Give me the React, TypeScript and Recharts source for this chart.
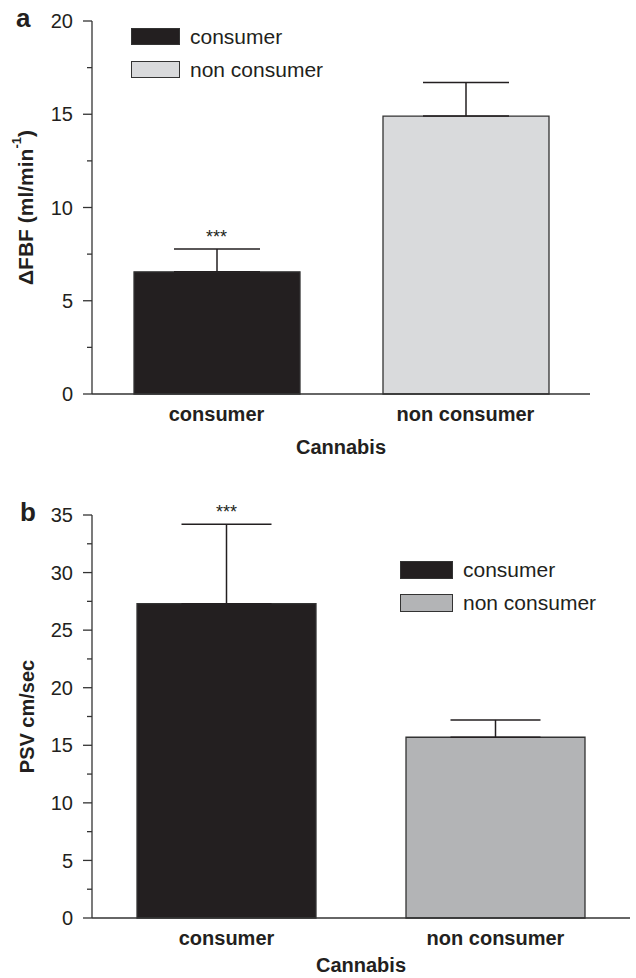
import React from "react";
import {
  BarChart,
  Bar,
  Cell,
  XAxis,
  YAxis,
  ErrorBar,
  ReferenceDot,
  Legend,
} from "recharts";

const INK = "#231f20";
const LINE = "#333333";
const FONT = '"Liberation Sans", Arial, Helvetica, sans-serif';

// shared categories (x axis + legend)
const categories = ["consumer", "non consumer"];

// panel a: ΔFBF
const fbfMean = [6.55, 14.9];
const fbfSem = [1.23, 1.8];
const fbfSig = ["***", ""];
const fbfColors = ["#231f20", "#d9dadc"];
const fbfTicks = [0, 2.5, 5, 7.5, 10, 12.5, 15, 17.5, 20];

// panel b: PSV
const psvMean = [27.3, 15.7];
const psvSem = [6.9, 1.5];
const psvSig = ["***", ""];
const psvColors = ["#231f20", "#b3b4b6"];
const psvTicks = [0, 2.5, 5, 7.5, 10, 12.5, 15, 17.5, 20, 22.5, 25, 27.5, 30, 32.5, 35];

function buildRows(mean: number[], sem: number[]) {
  return categories.map((name, i) => ({ name, mean: mean[i], err: [0, sem[i]] }));
}

function YTick(props: any) {
  const { x, y, payload } = props;
  const major = payload.value % 5 === 0;
  return (
    <g>
      <line x1={x - (major ? 9 : 5)} x2={x} y1={y} y2={y} stroke={LINE} strokeWidth={1.3} />
      {major && (
        <text x={x - 19} y={y} dy="0.36em" textAnchor="end" fontSize={20} fill={INK}>
          {payload.value}
        </text>
      )}
    </g>
  );
}

function AxisTitle(props: any) {
  const { viewBox, title, letter, titleX, letterX, titleSize } = props;
  const y = viewBox?.y ?? 0;
  const h = viewBox?.height ?? 0;
  const cy = y + h / 2;
  return (
    <g>
      <text x={letterX} y={y + 6} fontSize={26} fontWeight="bold" fill={INK}>
        {letter}
      </text>
      <text
        x={titleX}
        y={cy}
        transform={`rotate(-90 ${titleX} ${cy})`}
        textAnchor="middle"
        dominantBaseline="central"
        fontSize={titleSize}
        fontWeight="bold"
        fill={INK}
      >
        {title}
      </text>
    </g>
  );
}

function LegendBox({ colors, boxW, boxH }: { colors: string[]; boxW: number; boxH: number }) {
  return (
    <div style={{ fontFamily: FONT, fontSize: 21, color: INK }}>
      {categories.map((c, i) => (
        <div key={c} style={{ display: "flex", alignItems: "center", height: 33 }}>
          <span
            style={{
              display: "inline-block",
              width: boxW,
              height: boxH,
              boxSizing: "border-box",
              background: colors[i],
              border: `1px solid ${LINE}`,
              marginRight: 10,
            }}
          />
          <span>{c}</span>
        </div>
      ))}
    </div>
  );
}

interface PanelProps {
  mean: number[];
  sem: number[];
  sig: string[];
  colors: string[];
  ticks: number[];
  max: number;
  letter: string;
  title: React.ReactNode;
  titleSize: number;
  height: number;
  margin: { top: number; right: number; bottom: number; left: number };
  barSize: number;
  capHalf: number;
  legendPos: { top: number; left: number };
  legendBox: { w: number; h: number };
  titleX: number;
  letterX: number;
  xLabelOffset: number;
}

function Panel(p: PanelProps) {
  const rows = buildRows(p.mean, p.sem);
  return (
    <BarChart width={636} height={p.height} data={rows} margin={p.margin}>
      <XAxis
        dataKey="name"
        height={60}
        tickLine={false}
        tickMargin={7}
        axisLine={{ stroke: LINE, strokeWidth: 1.3 }}
        tick={{ fontSize: 20, fontWeight: "bold", fill: INK }}
        label={{
          value: "Cannabis",
          position: "insideBottom",
          offset: p.xLabelOffset,
          fontSize: 20,
          fontWeight: "bold",
          fill: INK,
        }}
      />
      <YAxis
        width={92}
        domain={[0, p.max]}
        ticks={p.ticks}
        interval={0}
        tickSize={0}
        tickMargin={0}
        tickLine={false}
        axisLine={{ stroke: LINE, strokeWidth: 1.3 }}
        tick={<YTick />}
        label={
          <AxisTitle
            title={p.title}
            titleSize={p.titleSize}
            letter={p.letter}
            titleX={p.titleX}
            letterX={p.letterX}
          />
        }
      />
      <Legend
        layout="horizontal"
        verticalAlign="middle"
        align="center"
        wrapperStyle={{ top: p.legendPos.top, left: p.legendPos.left, width: "auto" }}
        content={() => <LegendBox colors={p.colors} boxW={p.legendBox.w} boxH={p.legendBox.h} />}
      />
      <Bar dataKey="mean" barSize={p.barSize} stroke={LINE} strokeWidth={1.3} isAnimationActive={false}>
        {rows.map((r, i) => (
          <Cell key={r.name} fill={p.colors[i]} />
        ))}
        <ErrorBar dataKey="err" direction="y" width={p.capHalf} stroke={INK} strokeWidth={1.5} />
      </Bar>
      {rows.map((r, i) =>
        p.sig[i] ? (
          <ReferenceDot
            key={r.name}
            x={r.name}
            y={p.mean[i] + p.sem[i]}
            r={0}
            fill="none"
            stroke="none"
            label={{ value: p.sig[i], position: "top", offset: 6, fontSize: 18, fill: INK }}
          />
        ) : null
      )}
    </BarChart>
  );
}

export default function App() {
  return (
    <div
      style={{
        position: "absolute",
        left: 0,
        top: 0,
        width: 636,
        height: 978,
        background: "#fff",
        fontFamily: FONT,
      }}
    >
      <Panel
        mean={fbfMean}
        sem={fbfSem}
        sig={fbfSig}
        colors={fbfColors}
        ticks={fbfTicks}
        max={20}
        letter="a"
        title={
          <>
            ΔFBF (ml/min
            <tspan dy={-9} fontSize={13}>
              -1
            </tspan>
            <tspan dy={9}>)</tspan>
          </>
        }
        titleSize={21}
        height={480}
        margin={{ top: 21, right: 46, bottom: 26, left: 0 }}
        barSize={166}
        capHalf={43}
        legendPos={{ top: 20, left: 131 }}
        legendBox={{ w: 49, h: 17 }}
        titleX={25}
        letterX={16}
        xLabelOffset={0}
      />
      <Panel
        mean={psvMean}
        sem={psvSem}
        sig={psvSig}
        colors={psvColors}
        ticks={psvTicks}
        max={35}
        letter="b"
        title="PSV cm/sec"
        titleSize={20}
        height={498}
        margin={{ top: 35, right: 6, bottom: 0, left: 0 }}
        barSize={179}
        capHalf={45}
        legendPos={{ top: 73, left: 400 }}
        legendBox={{ w: 53, h: 18 }}
        titleX={27}
        letterX={20}
        xLabelOffset={6}
      />
    </div>
  );
}
